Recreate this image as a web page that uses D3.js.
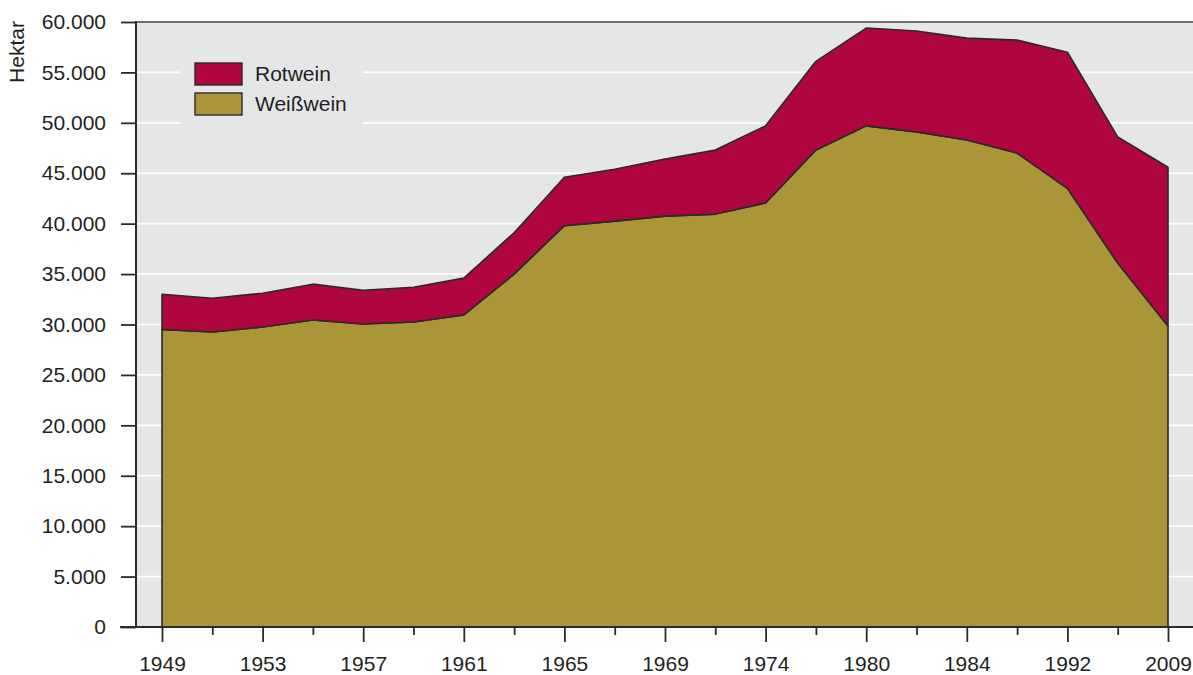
<!DOCTYPE html>
<html>
<head>
<meta charset="utf-8">
<script src="https://cdn.jsdelivr.net/npm/d3@7"></script>
<style>
  body { margin: 0; background: #fff; }
  svg text { font-family: "Liberation Sans", Arial, sans-serif; fill: #231f20; }
</style>
</head>
<body>
<svg id="chart" width="1193" height="675"></svg>
<script>
// Rebflächen in Hektar
var years = ['1949', '1951', '1953', '1955', '1957', '1959', '1961', '1963', '1965', '1967', '1969',
             '1971', '1974', '1977', '1980', '1982', '1984', '1988', '1992', '2000', '2009'];
var shownYears = ['1949', '1953', '1957', '1961', '1965', '1969', '1974', '1980', '1984', '1992', '2009'];
var weisswein = [29500, 29250, 29750, 30450, 30050, 30250, 30950, 35000, 39800, 40250, 40750,
                 40950, 42050, 47300, 49700, 49100, 48300, 47000, 43500, 36100, 29850];
var rotwein = [3500, 3350, 3350, 3550, 3350, 3450, 3650, 4100, 4800, 5150, 5650,
               6350, 7650, 8800, 9700, 10000, 10100, 11200, 13500, 12500, 15750];
var yTicks = [0, 5000, 10000, 15000, 20000, 25000, 30000, 35000, 40000, 45000, 50000, 55000, 60000];

var svg = d3.select('#chart');
var plotLeft = 136, plotRight = 1193, plotTop = 22, plotBottom = 627;
var ink = '#2a2a2a';
var fontSize = '21px';

var x = d3.scalePoint().domain(years).range([162, 1168]).padding(0);
var y = d3.scaleLinear().domain([0, 60000]).range([plotBottom, plotTop]);

var fmt = function (v) { return v === 0 ? '0' : d3.format(',')(v).replace(/,/g, '.'); };

// background
svg.append('rect')
    .attr('x', plotLeft).attr('y', plotTop)
    .attr('width', plotRight - plotLeft).attr('height', plotBottom - plotTop)
    .attr('fill', '#e5e6e8');

// grid
svg.append('g').selectAll('line')
    .data(yTicks.filter(function (d) { return d > 0 && d < 60000; }))
    .enter().append('line')
    .attr('x1', plotLeft).attr('x2', plotRight)
    .attr('y1', function (d) { return y(d); })
    .attr('y2', function (d) { return y(d); })
    .attr('stroke', '#ffffff')
    .attr('stroke-width', 1.6);

// stacked areas
var rows = years.map(function (yr, i) { return { year: yr, weiss: weisswein[i], rot: rotwein[i] }; });
var series = d3.stack().keys(['weiss', 'rot'])(rows);
var colors = { weiss: '#ab9539', rot: '#b0063f' };

var area = d3.area()
    .x(function (d) { return x(d.data.year); })
    .y0(function (d) { return y(d[0]); })
    .y1(function (d) { return y(d[1]); });

svg.append('g').selectAll('path')
    .data(series)
    .enter().append('path')
    .attr('d', area)
    .attr('fill', function (s) { return colors[s.key]; })
    .attr('stroke', ink)
    .attr('stroke-width', 1.6)
    .attr('stroke-linejoin', 'round');

// legend
var legend = svg.append('g');
legend.append('rect')
    .attr('x', 180).attr('y', 50).attr('width', 183).attr('height', 80)
    .attr('fill', '#e5e6e8');
var legItems = [{ key: 'rot', label: 'Rotwein' }, { key: 'weiss', label: 'Weißwein' }];
legItems.forEach(function (it, i) {
    legend.append('rect')
        .attr('x', 195).attr('y', 63 + i * 30)
        .attr('width', 47).attr('height', 22)
        .attr('fill', colors[it.key])
        .attr('stroke', ink).attr('stroke-width', 1.4);
    legend.append('text')
        .attr('x', 255).attr('y', 81 + i * 30)
        .style('font-size', fontSize)
        .text(it.label);
});

// y axis
var yAxis = svg.append('g')
    .attr('transform', 'translate(' + plotLeft + ',0)')
    .call(d3.axisLeft(y).tickValues(yTicks).tickFormat(fmt).tickSize(15).tickPadding(15));
yAxis.select('.domain').remove();
yAxis.selectAll('.tick line').attr('stroke', ink).attr('stroke-width', 1.8);
yAxis.selectAll('.tick text').style('font-size', fontSize).attr('fill', '#231f20');
svg.append('line')
    .attr('x1', plotLeft).attr('x2', plotLeft).attr('y1', plotTop - 1).attr('y2', plotBottom)
    .attr('stroke', ink).attr('stroke-width', 2);
svg.append('line')
    .attr('x1', plotLeft).attr('x2', plotRight).attr('y1', plotTop).attr('y2', plotTop)
    .attr('stroke', '#444').attr('stroke-width', 1.5);

// x axis
var xAxis = svg.append('g')
    .attr('transform', 'translate(0,' + plotBottom + ')')
    .call(d3.axisBottom(x)
        .tickFormat(function (d) { return shownYears.indexOf(d) >= 0 ? d : ''; })
        .tickSizeOuter(0).tickSize(15).tickPadding(14));
xAxis.select('.domain').remove();
xAxis.selectAll('.tick line')
    .attr('stroke', ink).attr('stroke-width', 1.8)
    .attr('y2', function (d) { return shownYears.indexOf(d) >= 0 ? 15 : 8; });
xAxis.selectAll('.tick text').style('font-size', fontSize).attr('fill', '#231f20');
svg.append('line')
    .attr('x1', 120).attr('x2', plotRight).attr('y1', plotBottom).attr('y2', plotBottom)
    .attr('stroke', ink).attr('stroke-width', 2);

// y title
svg.append('text')
    .attr('transform', 'translate(24,52) rotate(-90)')
    .attr('text-anchor', 'middle')
    .style('font-size', fontSize)
    .text('Hektar');
</script>
</body>
</html>
